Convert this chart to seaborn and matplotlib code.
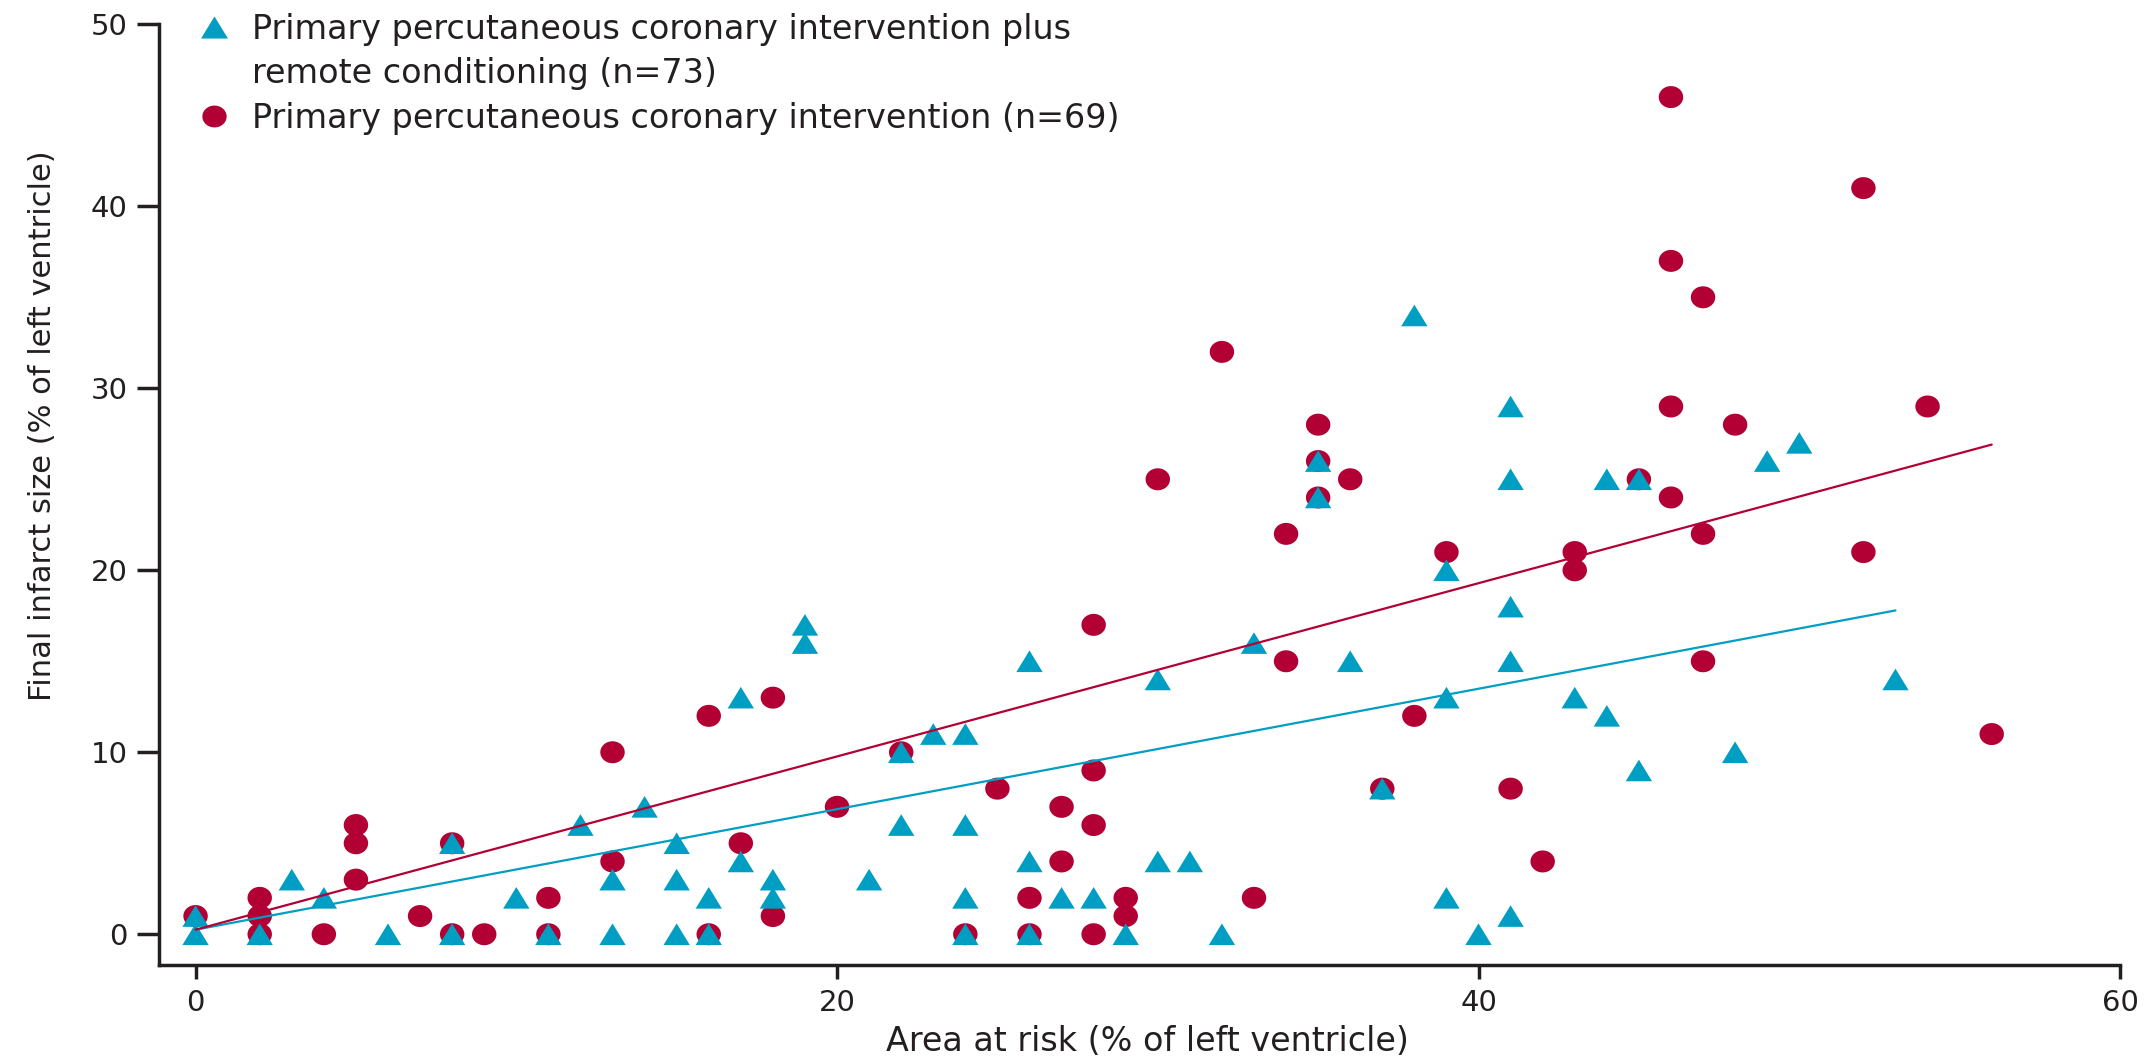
import numpy as np
import matplotlib
matplotlib.use("Agg")
import matplotlib.pyplot as plt
from matplotlib.path import Path
from matplotlib.lines import Line2D
import seaborn as sns

# Primary percutaneous coronary intervention plus remote conditioning
rc_area = [0, 0, 2, 3, 4, 6, 8, 8, 10, 11, 12, 13, 13, 14, 15, 15, 15, 16, 16,
           17, 17, 18, 18, 19, 19,
           21, 22, 22, 23, 24, 24, 24, 24, 26, 26, 26, 27, 28, 29, 30, 30, 31,
           32, 33, 36, 37, 39, 39, 39, 40,
           41, 35, 35, 41, 44, 45, 49, 50, 41, 41, 43, 44, 53, 48, 45, 41, 38]
rc_infarct = [1, 0, 0, 3, 2, 0, 5, 0, 2, 0, 6, 3, 0, 7, 5, 3, 0, 2, 0,
              13, 4, 3, 2, 17, 16,
              3, 10, 6, 11, 11, 6, 2, 0, 15, 4, 0, 2, 2, 0, 14, 4, 4,
              0, 16, 15, 8, 13, 2, 20, 0,
              29, 26, 24, 25, 25, 25, 26, 27, 18, 15, 13, 12, 14, 10, 9, 1, 34]

# Primary percutaneous coronary intervention alone
pci_area = [0, 2, 2, 2, 4, 5, 5, 5, 7, 8, 8, 9, 11, 11, 13, 13, 16, 16, 17, 18,
            18, 20,
            22, 24, 25, 26, 26, 27, 27, 28, 28, 28, 28, 29, 29, 33, 34, 37, 38, 39,
            35, 46, 54, 48, 36, 46, 47, 43, 43, 52, 47, 56, 41, 42,
            46, 52, 46, 47, 32, 30, 34, 35, 35, 45]
pci_infarct = [1, 2, 1, 0, 0, 6, 5, 3, 1, 0, 5, 0, 2, 0, 10, 4, 12, 0, 5, 13,
               1, 7,
               10, 0, 8, 2, 0, 7, 4, 17, 9, 6, 0, 2, 1, 2, 15, 8, 12, 21,
               28, 29, 29, 28, 25, 24, 22, 21, 20, 21, 15, 11, 8, 4,
               46, 41, 37, 35, 32, 25, 22, 26, 24, 25]

# Fitted lines (intercept, slope)
rc_fit = (0.25, 0.331)
pci_fit = (0.25, 0.476)

x_ticks = [0, 20, 40, 60]
y_ticks = [0, 10, 20, 30, 40, 50]

label_rc_1 = "Primary percutaneous coronary intervention plus"
label_rc_2 = "remote conditioning (n=73)"
label_pci = "Primary percutaneous coronary intervention (n=69)"
x_label = "Area at risk (% of left ventricle)"
y_label = "Final infarct size (% of left ventricle)"

TEAL = "#009EC3"
RED = "#B20035"
INK = "#231F20"

sns.set_style("ticks")
plt.rcParams["font.family"] = ["DejaVu Sans"]
plt.rcParams["text.color"] = INK
plt.rcParams["axes.labelcolor"] = INK
plt.rcParams["xtick.color"] = INK
plt.rcParams["ytick.color"] = INK

# Marker shapes: slightly squat dot and triangle
theta = np.linspace(0, 2 * np.pi, 61)
ellipse = Path(np.column_stack([np.cos(theta), 0.9 * np.sin(theta)]), closed=True)
triangle = Path([(0, 0.82), (-1, -0.82), (1, -0.82), (0, 0.82)], closed=True)

W, H = 2153, 1057
fig = plt.figure(figsize=(W / 100, H / 100), dpi=100)
ax = fig.add_axes([159 / W, 92 / H, (2120 - 159) / W, (965 - 24.3) / H])

sns.scatterplot(x=pci_area, y=pci_infarct, marker=ellipse, s=310, color=RED,
                edgecolor="none", linewidth=0, ax=ax, zorder=2)
sns.scatterplot(x=rc_area, y=rc_infarct, marker=triangle, s=360, color=TEAL,
                edgecolor="none", linewidth=0, ax=ax, zorder=3)


def fit_line(area, fit):
    xs = np.array([min(area), max(area)], dtype=float)
    return xs, fit[0] + fit[1] * xs


for area, fit, colour in ((rc_area, rc_fit, TEAL), (pci_area, pci_fit, RED)):
    fx, fy = fit_line(area, fit)
    sns.lineplot(x=fx, y=fy, color=colour, lw=1.6, ax=ax, zorder=4)

ax.set_xlim(-1.14, 60)
ax.set_ylim(-1.69, 50)
ax.set_xticks(x_ticks)
ax.set_yticks(y_ticks)
ax.set_xticklabels([str(v) for v in x_ticks])
ax.set_yticklabels([str(v) for v in y_ticks])

for side in ("top", "right"):
    ax.spines[side].set_visible(False)
for side in ("left", "bottom"):
    ax.spines[side].set_linewidth(2.5)
    ax.spines[side].set_color(INK)

ax.tick_params(axis="y", length=16, width=2.5, pad=6.5, labelsize=21)
ax.tick_params(axis="x", length=10, width=2.5, pad=7, labelsize=21)

ax.set_xlabel(x_label, fontsize=24)
ax.set_ylabel(y_label, fontsize=22)
ax.xaxis.set_label_coords(0.504, -0.0635)
ax.yaxis.set_label_coords(-0.052, 0.573)

handles = [
    Line2D([], [], ls="none", marker=triangle, ms=19.4, color=TEAL, mec="none"),
    Line2D([], [], ls="none"),
    Line2D([], [], ls="none", marker=ellipse, ms=17.5, color=RED, mec="none"),
]
labels = [label_rc_1, label_rc_2, label_pci]
ax.legend(handles, labels, loc="upper left",
          bbox_to_anchor=(197 / W, 1 - 12.7 / H), bbox_transform=fig.transFigure,
          frameon=False, fontsize=24, handlelength=1.0, handletextpad=0.64,
          labelspacing=0.35, borderpad=0, borderaxespad=0)

fig.savefig("out.png", dpi=100, facecolor="white")
